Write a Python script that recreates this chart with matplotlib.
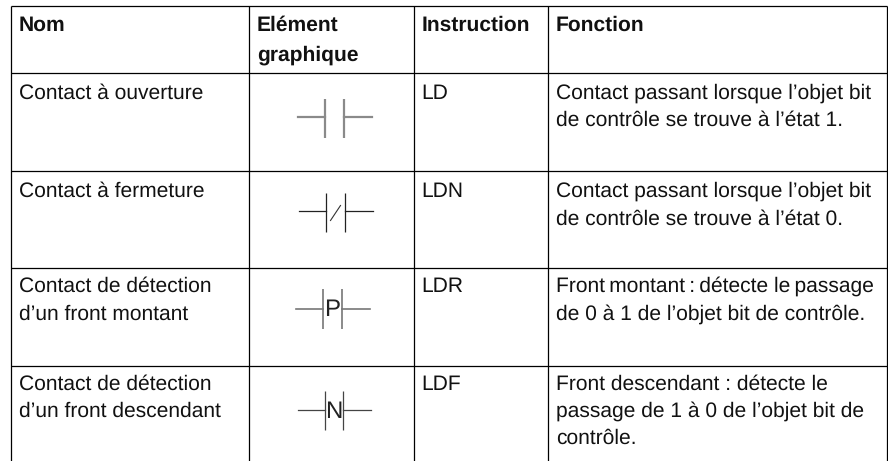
import matplotlib
matplotlib.use('Agg')
import matplotlib.pyplot as plt

plt.rcParams['font.family'] = ['Liberation Sans', 'DejaVu Sans']
plt.rcParams['text.hinting'] = 'none'
plt.rcParams['text.hinting_factor'] = 1

headers = [['Nom'], ['Elément', 'graphique'], ['Instruction'], ['Fonction']]
noms = [['Contact à ouverture'],
        ['Contact à fermeture'],
        ['Contact de détection', 'd’un front montant'],
        ['Contact de détection', 'd’un front descendant']]
instructions = ['LD', 'LDN', 'LDR', 'LDF']
fonctions = [['Contact passant lorsque l’objet bit', 'de contrôle se trouve à l’état 1.'],
             ['Contact passant lorsque l’objet bit', 'de contrôle se trouve à l’état 0.'],
             ['Front\u2009montant\u2009:\u2009détecte le\u2009passage', 'de 0 à 1 de l’objet bit de contrôle.'],
             ['Front descendant : détecte le', 'passage de 1 à 0 de l’objet bit de', 'contrôle.']]
symbol_letters = ['', '/', 'P', 'N']

# grid, in pixels
col_x = [10.5, 248.5, 413.5, 547.5, 886.5]
row_y = [6.5, 73, 171, 267.5, 365.5]
text_x = [18.5, 257, 421.5, 556]
head_base = [31, 61]
row_base = [[98.7, 126], [196.7, 224.5], [291.7, 319.3], [390, 416.7, 443.3]]

# left stub start, first bar, second bar, right stub end, bar top, bar bottom, wire y
sym = [[297.5, 325, 343.5, 371.5, 98.7, 137.7, 117.5],
       [298.7, 326, 344.5, 372.7, 192.7, 231.7, 211],
       [296, 323.3, 341.5, 370, 289.3, 329.3, 308.7],
       [297.5, 324.5, 342.5, 370.7, 391, 430, 410.3]]
sym_col = ['#8a8a8a', '#222222', '#777777', '#444444']
sym_lw = [1.6, 0.9, 1.2, 0.9]

fs = 15.2
fig = plt.figure(figsize=(8.88, 4.61), dpi=100)
ax = fig.add_axes([0, 0, 1, 1])
ax.set_xlim(0, 888)
ax.set_ylim(461, 0)
ax.axis('off')

ax.hlines(row_y, col_x[0], col_x[-1], color='black', lw=0.9)
ax.vlines(col_x, row_y[0], 461, color='black', lw=0.9)


def put(x, y, s, **kw):
    ax.text(x, y, s, fontsize=fs, color='#111111', va='baseline', ha='left', **kw)


for i, lines in enumerate(headers):
    for j, s in enumerate(lines):
        put(text_x[i], head_base[j], s, fontweight='bold')

for r in range(4):
    for j, s in enumerate(noms[r]):
        put(text_x[0], row_base[r][j], s)
    put(text_x[2], row_base[r][0], instructions[r])
    for j, s in enumerate(fonctions[r]):
        put(text_x[3], row_base[r][j], s)

    x0, b1, b2, x1, top, bot, wire = sym[r]
    c, lw = sym_col[r], sym_lw[r]
    ax.plot([x0, b1], [wire, wire], color=c, lw=lw)
    ax.plot([b2, x1], [wire, wire], color=c, lw=lw)
    ax.vlines([b1, b2], top, bot, color=c, lw=lw)
    letter = symbol_letters[r]
    if letter == '/':
        ax.plot([b1 + 4.5, b1 + 14.5], [wire + 9.5, wire - 5.5], color='#333333', lw=0.8)
    elif letter:
        ax.text((b1 + b2) / 2, wire + 1.5, letter, fontsize=17, color='#222222',
                ha='center', va='center')

fig.savefig('out.png', dpi=100)
